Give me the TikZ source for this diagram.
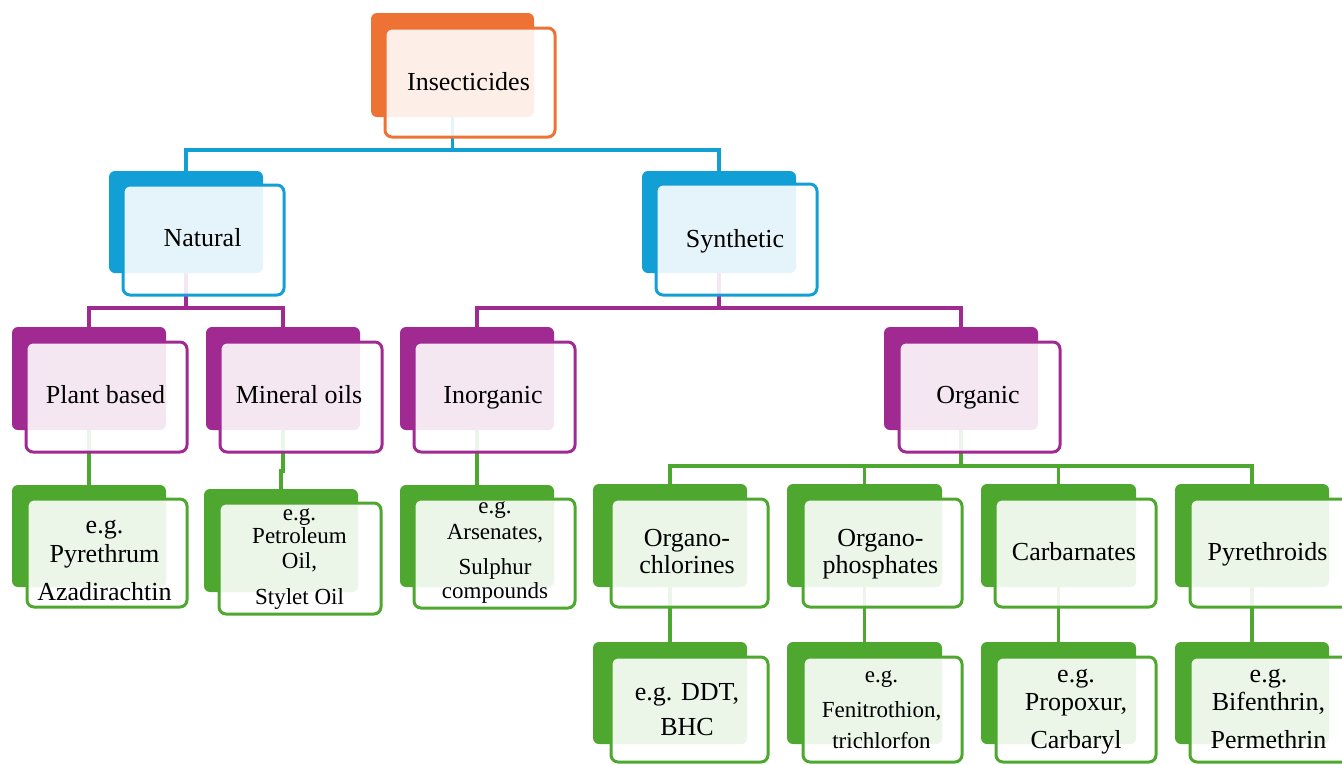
\documentclass[tikz,border=0pt]{standalone}
\usepackage{fontspec}
\setmainfont{Liberation Serif}
\pgfdeclarelayer{links}
\pgfsetlayers{links,main}

\definecolor{cOrange}{RGB}{237,114,51}
\definecolor{cBlue}{RGB}{17,159,213}
\definecolor{cPurple}{RGB}{160,42,145}
\definecolor{cGreen}{RGB}{78,167,46}

\tikzset{
  backbox/.style={fill=#1, draw=none, rounded corners=6pt, inner sep=0pt, outer sep=0pt},
  frontbox/.style={draw=#1, line width=3pt, fill=white, fill opacity=0.89,
                   rounded corners=7pt, inner sep=0pt, outer sep=0pt},
  link/.style={draw=#1, line width=3.5pt},
  lbl/.style={anchor=base, inner sep=0pt, text=black, font=\fontsize{26}{28}\selectfont},
  lbls/.style={lbl, font=\fontsize{23}{25}\selectfont},
}

% \twin{name}{colour}{back x1,y1,x2,y2}{front x1,y1,x2,y2}
\def\backpart#1#2#3,#4,#5,#6\relax{%
  \node[backbox=#2, minimum width={#5-#3}, minimum height={#6-#4}]
       (#1) at ({(#3+#5)/2},{(#4+#6)/2}) {};}
\def\frontpart#1#2#3,#4,#5,#6\relax{%
  \node[frontbox=#2, minimum width={#5-#3}, minimum height={#6-#4}]
       (#1-f) at ({(#3+#5)/2},{(#4+#6)/2}) {};}
\newcommand\twin[4]{\backpart{#1}{#2}#3\relax\frontpart{#1}{#2}#4\relax}

% \boxlines{name}{style}{x centre}{baseline/text list}
\newcommand\boxlines[4]{%
  \foreach \yy/\txt [count=\k] in {#4} {\node[#2] (#1-t\k) at (#3,\yy) {\txt};}
}

\begin{document}
\begin{tikzpicture}[x=1pt, y=-1pt]
\useasboundingbox (0,0) rectangle (1342,764);
\clip (0,0) rectangle (1342,764);

% level 0
\twin{ins}{cOrange}{371,13,534,117}{385,28,555,137}
% level 1
\twin{nat}{cBlue}{109,171,263,273}{123,185,284,295}
\twin{syn}{cBlue}{642,171,796,273}{656,184,817,295}
% level 2
\twin{plant}{cPurple}{12,327,166,430}{26,342,187,452}
\twin{mineral}{cPurple}{206,327,360,430}{220,342,382,452}
\twin{inorg}{cPurple}{400,327,554,430}{414,342,575,452}
\twin{org}{cPurple}{884,327,1038,430}{899,342,1060,452}
% level 3
\twin{plantex}{cGreen}{12,485,166,587}{27,499,187,607}
\twin{minex}{cGreen}{204,489,358,592}{219,503,381,614}
\twin{inorgex}{cGreen}{400,485,554,587}{414,499,575,608}
\twin{ochl}{cGreen}{593,484,747,587}{611,499,768,607}
\twin{ophos}{cGreen}{787,484,942,587}{803,499,962,607}
\twin{carb}{cGreen}{981,484,1136,587}{995,499,1156,607}
\twin{pyr}{cGreen}{1175,484,1329,587}{1190,499,1351,607}
% level 4
\twin{ddt}{cGreen}{593,642,747,744}{611,657,768,762}
\twin{feni}{cGreen}{787,642,942,744}{803,657,962,762}
\twin{prop}{cGreen}{981,642,1136,744}{996,657,1156,762}
\twin{bif}{cGreen}{1175,642,1329,744}{1190,657,1351,762}

% labels
\boxlines{ins}{lbl}{468.5}{90/Insecticides}
\boxlines{nat}{lbl}{202.5}{246/Natural}
\boxlines{syn}{lbl}{735}{247/Synthetic}
\boxlines{plant}{lbl}{105.5}{403/Plant based}
\boxlines{mineral}{lbl}{299}{403/Mineral oils}
\boxlines{inorg}{lbl}{493}{403/Inorganic}
\boxlines{org}{lbl}{978}{403/Organic}
\boxlines{plantex}{lbl}{104.5}{533/{e.g.}, 562/Pyrethrum, 600/Azadirachtin}
\boxlines{minex}{lbls}{299.5}{520/{e.g.}, 543/Petroleum, 568/{Oil,}, 604/Stylet Oil}
\boxlines{inorgex}{lbls}{495}{513/{e.g.}, 539/{Arsenates,}, 574/Sulphur, 598/compounds}
\boxlines{ochl}{lbl}{687}{546/Organo-, 573/chlorines}
\boxlines{ophos}{lbl}{880.5}{546/Organo-, 573/phosphates}
\boxlines{carb}{lbl}{1074}{560/Carbarnates}
\boxlines{pyr}{lbl}{1267.5}{560/Pyrethroids}
\boxlines{ddt}{lbl}{687}{700/{e.g. DDT,}, 735/BHC}
\boxlines{feni}{lbls}{881.5}{682/{e.g.}, 717/{Fenitrothion,}, 748/trichlorfon}
\boxlines{prop}{lbl}{1076}{682/{e.g.}, 710/{Propoxur,}, 748/Carbaryl}
\boxlines{bif}{lbl}{1268.5}{682/{e.g.}, 710/{Bifenthrin,}, 748/Permethrin}

% connectors, kept underneath the boxes
\begin{pgfonlayer}{links}
  \coordinate (j0) at (452,150);
  \coordinate (j1) at (186,308);
  \coordinate (j2) at (719,308);
  \coordinate (j3) at (961,466);

  \draw[link=cBlue] (ins.south) -- (ins.south |- j0);
  \draw[link=cBlue] (nat.north) |- (j0) -| (syn.north);

  \draw[link=cPurple] (nat.south) -- (nat.south |- j1);
  \draw[link=cPurple] (plant.north) |- (j1) -| (mineral.north);
  \draw[link=cPurple] (syn.south) -- (syn.south |- j2);
  \draw[link=cPurple] (inorg.north) |- (j2) -| (org.north);

  \draw[link=cGreen] (plant.south) -- (plantex.north);
  \draw[link=cGreen] (mineral.south) -- ++(0,41) -| (minex.north);
  \draw[link=cGreen] (inorg.south) -- (inorgex.north);

  \draw[link=cGreen] (org.south) -- (org.south |- j3);
  \draw[link=cGreen] (ochl.north) |- (j3) -| (pyr.north);
  \draw[link=cGreen] (ophos.north) -- (ophos.north |- j3);
  \draw[link=cGreen] (carb.north) -- (carb.north |- j3);

  \draw[link=cGreen] (ochl.south) -- (ddt.north);
  \draw[link=cGreen] (ophos.south) -- (feni.north);
  \draw[link=cGreen] (carb.south) -- (prop.north);
  \draw[link=cGreen] (pyr.south) -- (bif.north);
\end{pgfonlayer}
\end{tikzpicture}
\end{document}
